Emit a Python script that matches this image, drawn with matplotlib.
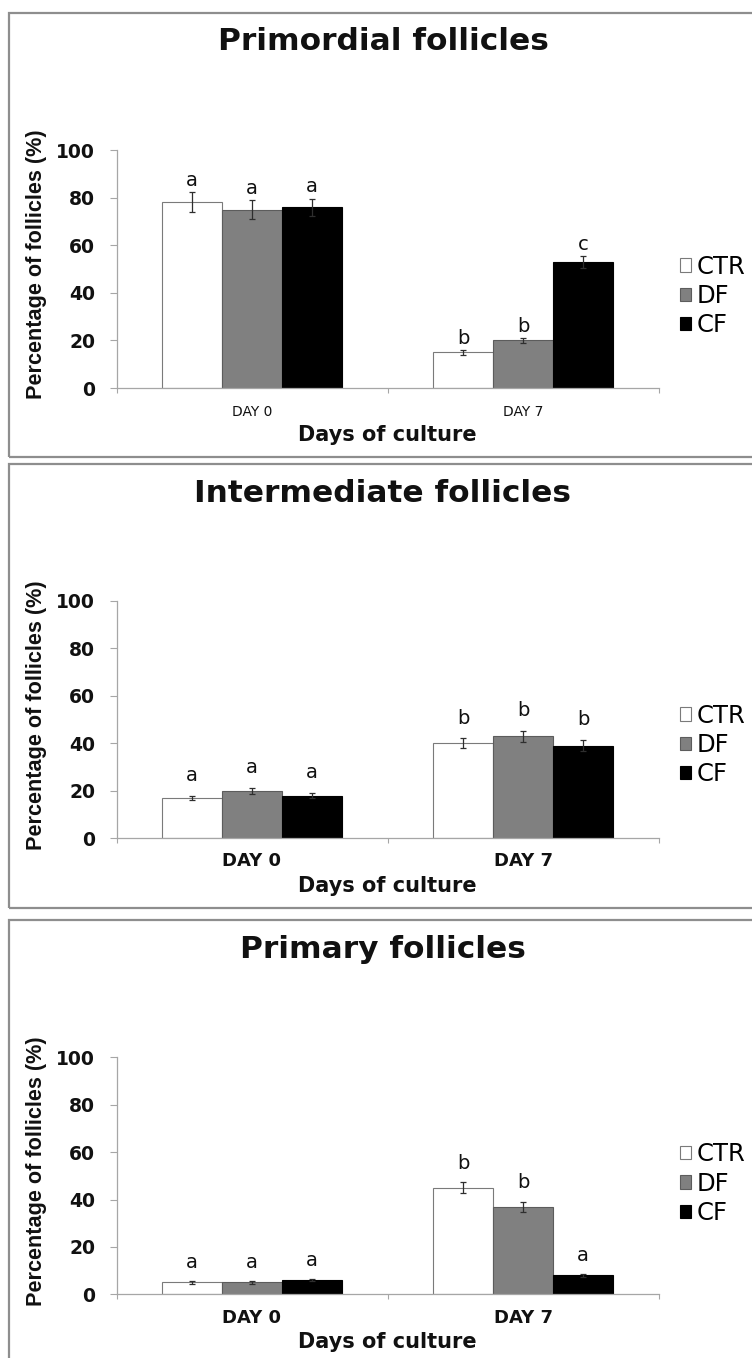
import matplotlib
matplotlib.use("Agg")
import matplotlib.pyplot as plt
from matplotlib.patches import Rectangle
import numpy as np

# ---- data -------------------------------------------------------------
days = ["DAY 0", "DAY 7"]
groups = ["CTR", "DF", "CF"]

# mean percentage of follicles, rows = CTR, DF, CF ; columns = DAY 0, DAY 7
primordial_means = [[78, 15], [75, 20], [76, 53]]
primordial_sem = [[4.2, 1.0], [3.9, 1.0], [3.6, 2.5]]
primordial_letters = [["a", "b"], ["a", "b"], ["a", "c"]]

intermediate_means = [[17, 40], [20, 43], [18, 39]]
intermediate_sem = [[1.0, 2.1], [1.2, 2.3], [1.0, 2.3]]
intermediate_letters = [["a", "b"], ["a", "b"], ["a", "b"]]

primary_means = [[5, 45], [5, 37], [6, 8]]
primary_sem = [[0.5, 2.2], [0.5, 2.1], [0.4, 0.5]]
primary_letters = [["a", "b"], ["a", "b"], ["a", "a"]]

yticks = [0, 20, 40, 60, 80, 100]

# ---- figure -----------------------------------------------------------
W, H, DPI = 752, 1358, 100
fig = plt.figure(figsize=(W / DPI, H / DPI), dpi=DPI)
fig.patch.set_facecolor("white")

plt.rcParams["font.family"] = ["DejaVu Sans"]

fills = ["white", "#808080", "black"]
edges = ["#7a7a7a", "#5c5c5c", "black"]
axis_grey = "#a6a6a6"

LEFT, RIGHT = 116.5, 658.5  # plot area in pixels


def add_axes_px(top, bottom):
    return fig.add_axes([LEFT / W, 1 - bottom / H,
                         (RIGHT - LEFT) / W, (bottom - top) / H])


def add_frame_px(top, bottom):
    fig.add_artist(Rectangle((9 / W, 1 - bottom / H), (790 - 9) / W,
                             (bottom - top) / H, transform=fig.transFigure,
                             fill=False, ec="#8e8e8e", lw=1.6))


panels = [
    dict(title="Primordial follicles", means=primordial_means, sem=primordial_sem,
         letters=primordial_letters, top=150.0, bottom=388.0, frame=(13, 457),
         title_base=50.0, xlabel_base=440.7, gap=5.0, tick_bold=False,
         tick_size=10, tick_pad=12.0, leg_y=0.387),
    dict(title="Intermediate follicles", means=intermediate_means, sem=intermediate_sem,
         letters=intermediate_letters, top=600.7, bottom=838.3, frame=(464, 908),
         title_base=502.5, xlabel_base=891.7, gap=8.5, tick_bold=True,
         tick_size=13, tick_pad=9.8, leg_y=0.393),
    dict(title="Primary follicles", means=primary_means, sem=primary_sem,
         letters=primary_letters, top=1057.3, bottom=1294.3, frame=(920, 1420),
         title_base=958.0, xlabel_base=1348.3, gap=8.0, tick_bold=True,
         tick_size=13, tick_pad=10.5, leg_y=0.467),
]

x = np.arange(len(days))
width = 0.2214
offsets = [-width, 0.0, width]

for p in panels:
    add_frame_px(*p["frame"])
    ax = add_axes_px(p["top"], p["bottom"])
    hpx = p["bottom"] - p["top"]

    for gi, g in enumerate(groups):
        ax.bar(x + offsets[gi], p["means"][gi], width, yerr=p["sem"][gi],
               color=fills[gi], edgecolor=edges[gi], linewidth=0.8, label=g,
               zorder=2,
               error_kw=dict(ecolor="#2e2e2e", elinewidth=0.9, capsize=2.5,
                             capthick=0.9, zorder=3))
        for xi, m, e, lt in zip(x + offsets[gi], p["means"][gi],
                                p["sem"][gi], p["letters"][gi]):
            ax.text(xi, m + e + p["gap"], lt, ha="center", va="center",
                    fontsize=14, color="#111111")

    ax.set_xlim(-0.5, 1.5)
    ax.set_ylim(0, 100)
    for side in ("top", "right"):
        ax.spines[side].set_visible(False)
    for side in ("left", "bottom"):
        ax.spines[side].set_color(axis_grey)
        ax.spines[side].set_linewidth(0.9)

    ax.set_yticks(yticks)
    ax.set_yticklabels([str(t) for t in yticks], fontsize=13.5,
                       fontweight="bold", color="#111111")
    ax.tick_params(axis="y", direction="out", length=5, width=0.8,
                   color=axis_grey, pad=10.4)

    ax.set_xticks(x)
    ax.set_xticklabels(days, fontsize=p["tick_size"],
                       fontweight="bold" if p["tick_bold"] else "normal",
                       color="#111111")
    ax.tick_params(axis="x", which="major", length=0, pad=p["tick_pad"])
    ax.set_xticks([-0.5, 0.5, 1.5], minor=True)
    ax.tick_params(axis="x", which="minor", direction="out", length=3.6,
                   width=0.8, color=axis_grey)

    ax.set_xlabel("Days of culture", fontsize=15, fontweight="bold",
                  color="#111111")
    ax.xaxis.set_label_coords(0.5, (p["bottom"] - p["xlabel_base"]) / hpx)
    ax.xaxis.label.set_va("baseline")

    ax.set_ylabel("Percentage of follicles (%)", fontsize=15.6,
                  fontweight="bold", family=["Liberation Sans", "DejaVu Sans"],
                  color="#111111")
    ax.yaxis.set_label_coords((36 - LEFT) / (RIGHT - LEFT), 0.52)
    ax.yaxis.label.set_va("center")

    ax.set_title(p["title"], x=(383 - LEFT) / (RIGHT - LEFT),
                 y=(p["bottom"] - p["title_base"]) / hpx, pad=0,
                 va="baseline", fontsize=22.5, fontweight="bold",
                 color="#111111")

    ax.legend(loc="center left", bbox_to_anchor=(1.0397, p["leg_y"]),
              frameon=False, borderpad=0, borderaxespad=0,
              handlelength=0.47, handleheight=0.47, handletextpad=0.23,
              labelspacing=0.22, fontsize=17.5)

fig.savefig("out.png", dpi=DPI, facecolor="white")
